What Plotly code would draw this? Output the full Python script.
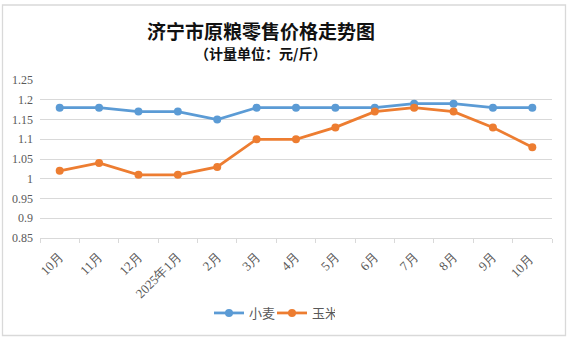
import plotly.graph_objects as go

# 济宁市原粮零售价格（元/斤）
months = ["10月", "11月", "12月", "2025年1月", "2月", "3月", "4月",
          "5月", "6月", "7月", "8月", "9月", "10月 "]
wheat = [1.18, 1.18, 1.17, 1.17, 1.15, 1.18, 1.18, 1.18, 1.18, 1.19, 1.19, 1.18, 1.18]
corn = [1.02, 1.04, 1.01, 1.01, 1.03, 1.10, 1.10, 1.13, 1.17, 1.18, 1.17, 1.13, 1.08]

W, H = 571, 340
L, R, T, B = 40, 552, 80, 238  # plot area in pixels

fig = go.Figure()
fig.add_trace(go.Scatter(
    x=months, y=wheat, name="小麦", mode="lines+markers",
    line=dict(color="#5B9BD5", width=2.75),
    marker=dict(color="#5B9BD5", size=8),
))
fig.add_trace(go.Scatter(
    x=months, y=corn, name="玉米", mode="lines+markers",
    line=dict(color="#ED7D31", width=2.75),
    marker=dict(color="#ED7D31", size=8),
))

def px_x(p):
    return (p - L) / (R - L)

def px_y(p):
    return (B - p) / (B - T)

# chart outline
fig.add_shape(type="rect", xref="paper", yref="paper",
              x0=px_x(2.5), x1=px_x(565.5), y0=px_y(335.5), y1=px_y(5),
              line=dict(color="#D9D9D9", width=1.3), fillcolor="rgba(0,0,0,0)",
              layer="below")

fig.add_annotation(text="<b>济宁市原粮零售价格走势图</b>", xref="paper", yref="paper",
                   x=px_x(261), y=px_y(30), xanchor="center", yanchor="middle",
                   showarrow=False,
                   font=dict(family="Noto Sans CJK SC", size=19, color="#111111"))
fig.add_annotation(text="<b>（计量单位：元/斤）</b>", xref="paper", yref="paper",
                   x=px_x(260), y=px_y(53), xanchor="center", yanchor="middle",
                   showarrow=False,
                   font=dict(family="Noto Sans CJK SC", size=14, color="#111111"))

fig.update_layout(
    width=W, height=H,
    margin=dict(l=L, r=W - R, t=T, b=H - B),
    paper_bgcolor="white", plot_bgcolor="white",
    showlegend=True,
    legend=dict(orientation="h", x=px_x(209), y=px_y(313), xanchor="left", yanchor="middle",
                font=dict(family="Noto Sans CJK SC", size=13, color="#595959"),
                itemwidth=30, entrywidth=18, entrywidthmode="pixels", tracegroupgap=0),
    xaxis=dict(
        type="category", showgrid=False, showline=True, linecolor="#D9D9D9", linewidth=1,
        ticks="outside", tickson="boundaries", ticklen=4, tickcolor="#D9D9D9",
        tickangle=-45, tickfont=dict(family="Liberation Serif", size=13, color="#595959"),
        ticklabelstandoff=5,
        range=[-0.5, len(months) - 0.5],
    ),
    yaxis=dict(
        range=[0.85, 1.25], dtick=0.05, tick0=0.85,
        showgrid=True, gridcolor="#D9D9D9", gridwidth=1, zeroline=False,
        showline=False, ticks="", ticklabelstandoff=6,
        tickfont=dict(family="Liberation Serif", size=12, color="#595959"),
    ),
)

fig.write_html("out.html")
